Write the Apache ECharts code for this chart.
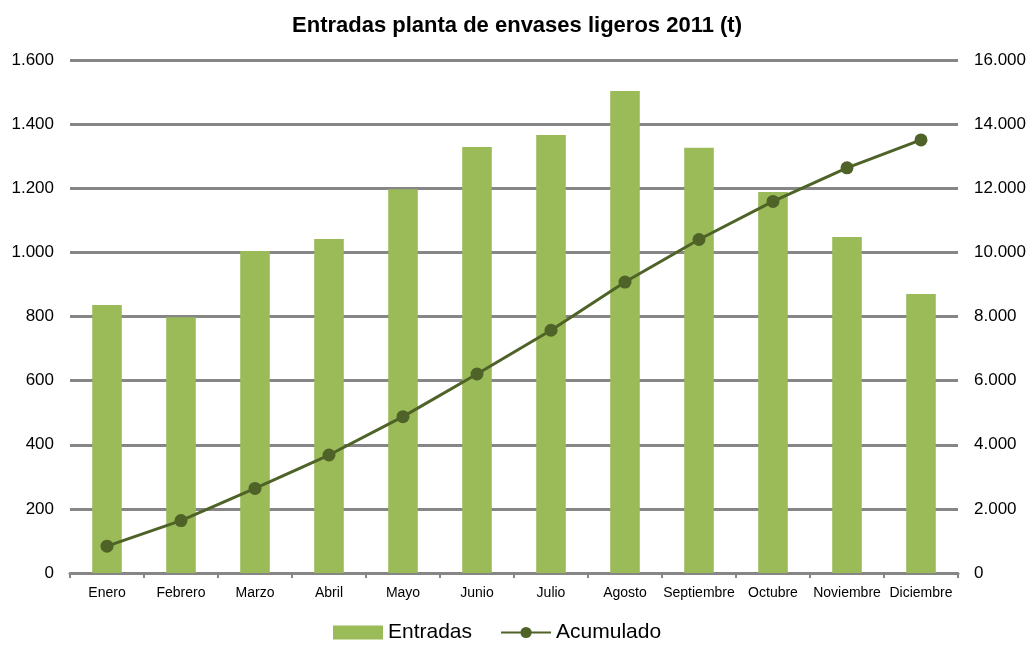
<!DOCTYPE html>
<html>
<head>
<meta charset="utf-8">
<script src="https://cdn.jsdelivr.net/npm/echarts@6/dist/echarts.min.js"></script>
<style>
    html, body {margin: 0; padding: 0; background: #fff;}
    #chart {width: 1034px; height: 648px;}
</style>
</head>
<body>
<div id="chart"></div>
<script>
let months = ['Enero', 'Febrero', 'Marzo', 'Abril', 'Mayo', 'Junio', 'Julio', 'Agosto', 'Septiembre', 'Octubre', 'Noviembre', 'Diciembre'];
let entradas = [836, 798, 1004, 1042, 1197, 1329, 1366, 1503, 1326, 1188, 1048, 870];
let acumulado = [836, 1634, 2638, 3680, 4877, 6206, 7572, 9075, 10401, 11589, 12637, 13507];

let fontFamily = "'Liberation Sans', Arial, sans-serif";

function thousands(v) {
    return String(v).replace(/\B(?=(\d{3})+(?!\d))/g, '.');
}

let eChart = echarts.init(document.getElementById('chart'));

let option = {
    animation: false,
    backgroundColor: '#ffffff',
    textStyle: {fontFamily: fontFamily},
    title: {
        text: 'Entradas planta de envases ligeros 2011 (t)',
        left: 'center',
        top: 10,
        textStyle: {
            fontFamily: fontFamily,
            fontSize: 22,
            fontWeight: 'bold',
            color: '#000'
        }
    },
    legend: {
        bottom: 0,
        left: 328,
        itemWidth: 50,
        itemHeight: 14,
        itemGap: 28,
        textStyle: {fontSize: 21, color: '#000', fontFamily: fontFamily},
        data: [
            {name: 'Entradas', icon: 'rect'},
            {name: 'Acumulado'}
        ]
    },
    grid: {
        left: 70,
        right: 76,
        top: 60,
        bottom: 75
    },
    xAxis: {
        type: 'category',
        data: months,
        boundaryGap: true,
        axisLine: {lineStyle: {color: '#868686', width: 3}},
        axisTick: {show: true, length: 5, lineStyle: {color: '#868686', width: 2}},
        axisLabel: {fontSize: 14, color: '#000', margin: 13, interval: 0}
    },
    yAxis: [
        {
            type: 'value',
            min: 0,
            max: 1600,
            interval: 200,
            axisLine: {show: false},
            axisTick: {show: false},
            splitLine: {lineStyle: {color: '#868686', width: 3}},
            axisLabel: {fontSize: 17, color: '#000', margin: 16, formatter: thousands}
        },
        {
            type: 'value',
            min: 0,
            max: 16000,
            interval: 2000,
            axisLine: {show: false},
            axisTick: {show: false},
            splitLine: {show: false},
            axisLabel: {fontSize: 17, color: '#000', margin: 16, formatter: thousands}
        }
    ],
    series: [
        {
            name: 'Entradas',
            type: 'bar',
            data: entradas,
            barWidth: '40%',
            itemStyle: {color: '#9BBB59'}
        },
        {
            name: 'Acumulado',
            type: 'line',
            yAxisIndex: 1,
            data: acumulado,
            symbol: 'circle',
            symbolSize: 13,
            lineStyle: {color: '#4F6228', width: 3},
            itemStyle: {color: '#4F6228'}
        }
    ]
};

eChart.setOption(option);
</script>
</body>
</html>
